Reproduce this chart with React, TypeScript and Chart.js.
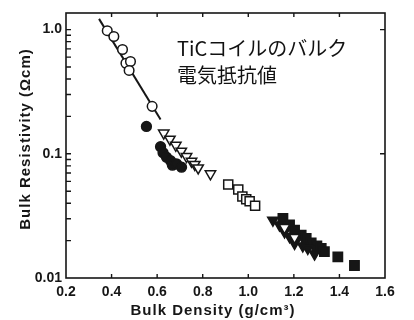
import React, { useEffect, useRef } from 'react';
import { Chart, registerables } from 'chart.js';

Chart.register(...registerables);

// ---- axis data ----
const xTickValues = [0.2, 0.4, 0.6, 0.8, 1.0, 1.2, 1.4, 1.6];
const xRange = [0.2, 1.6];
const yTickValues = [0.01, 0.1, 1.0];
const yTickLabels = ['0.01', '0.1', '1.0'];
const yMinorTicks = [0.02, 0.03, 0.04, 0.05, 0.06, 0.07, 0.08, 0.09, 0.2, 0.3, 0.4, 0.5, 0.6, 0.7, 0.8, 0.9];
const yRightTicks = [0.1, 1.0];
const yRange = [0.01, 1.36];

const xTitle = 'Bulk Density (g/cm³)';
const yTitle = 'Bulk Resistivity (Ωcm)';
const noteLines = ['TiCコイルのバルク', '電気抵抗値'];

// ---- series (bulk density g/cm3, bulk resistivity ohm·cm) ----
const openCircleX = [0.381, 0.41, 0.448, 0.463, 0.483, 0.477, 0.578];
const openCircleY = [0.98, 0.879, 0.691, 0.536, 0.553, 0.469, 0.241];

const filledCircleX = [0.553, 0.615, 0.626, 0.641, 0.659, 0.667, 0.685, 0.707];
const filledCircleY = [0.166, 0.114, 0.102, 0.094, 0.088, 0.081, 0.083, 0.078];

const openTriangleX = [0.629, 0.656, 0.682, 0.706, 0.729, 0.751, 0.765, 0.78, 0.834, 1.159, 1.203];
const openTriangleY = [0.147, 0.131, 0.117, 0.105, 0.095, 0.087, 0.082, 0.077, 0.069, 0.0255, 0.0212];

const openSquareX = [0.912, 0.956, 0.974, 0.991, 1.006, 1.03];
const openSquareY = [0.0566, 0.0516, 0.0453, 0.0431, 0.0415, 0.0382];

const filledTriangleX = [1.108, 1.137, 1.159, 1.181, 1.203, 1.239, 1.261, 1.291];
const filledTriangleY = [0.0292, 0.0267, 0.0235, 0.0215, 0.019, 0.0181, 0.0173, 0.0156];

const filledSquareX = [1.152, 1.181, 1.203, 1.232, 1.254, 1.276, 1.301, 1.32, 1.334, 1.393, 1.466];
const filledSquareY = [0.0302, 0.0267, 0.0243, 0.0221, 0.0208, 0.0192, 0.0181, 0.0173, 0.0163, 0.0148, 0.0126];

const fitLineX = [0.345, 0.615];
const fitLineY = [1.22, 0.189];

const pts = (xs: number[], ys: number[]) => xs.map((x, i) => ({ x, y: ys[i] }));

const INK = '#161616';
const tickFont = { family: '"Liberation Sans", Arial, sans-serif', size: 14, weight: 'bold' as const };

const decorPlugin = {
  id: 'decor',
  afterDraw(chart: any) {
    const { ctx, chartArea: a } = chart;
    const x = chart.scales.x;
    const y = chart.scales.y;
    ctx.save();
    ctx.strokeStyle = INK;
    ctx.lineWidth = 1.6;
    ctx.strokeRect(a.left, a.top, a.right - a.left, a.bottom - a.top);
    ctx.lineWidth = 1.4;
    ctx.beginPath();
    xTickValues.forEach((v) => {
      const px = x.getPixelForValue(v);
      if (px <= a.left + 1 || px >= a.right - 1) return;
      ctx.moveTo(px, a.bottom);
      ctx.lineTo(px, a.bottom - 4);
      ctx.moveTo(px, a.top);
      ctx.lineTo(px, a.top + 4);
    });
    [...yTickValues, ...yMinorTicks].forEach((v) => {
      const py = y.getPixelForValue(v);
      if (py <= a.top + 1 || py >= a.bottom - 1) return;
      ctx.moveTo(a.left, py);
      ctx.lineTo(a.left + 5, py);
    });
    yRightTicks.forEach((v) => {
      const py = y.getPixelForValue(v);
      ctx.moveTo(a.right, py);
      ctx.lineTo(a.right - 5, py);
    });
    ctx.stroke();

    // axis titles
    ctx.fillStyle = INK;
    ctx.font = 'bold 15px "Liberation Sans", Arial, sans-serif';
    try { (ctx as any).letterSpacing = '1px'; } catch (e) { /* ignore */ }
    ctx.textAlign = 'center';
    ctx.textBaseline = 'middle';
    ctx.fillText(xTitle, 213, 311);
    ctx.save();
    ctx.translate(26, 139);
    ctx.rotate(-Math.PI / 2);
    ctx.fillText(yTitle, 0, 0);
    ctx.restore();
    try { (ctx as any).letterSpacing = '0px'; } catch (e) { /* ignore */ }

    // annotation
    ctx.font = '20px "Noto Sans CJK JP", sans-serif';
    ctx.textAlign = 'left';
    ctx.fillStyle = '#111';
    ctx.fillText(noteLines[0], 177, 48);
    ctx.fillText(noteLines[1], 177, 75);
    ctx.restore();
  },
};

export default function App() {
  const ref = useRef<HTMLCanvasElement>(null);
  useEffect(() => {
    const marker = (fill: string, style: string, r: number, rot = 0) => ({
      showLine: false,
      pointStyle: style,
      pointRadius: r,
      pointRotation: rot,
      pointBackgroundColor: fill,
      pointBorderColor: INK,
      pointBorderWidth: 1.5,
    });
    const chart = new Chart(ref.current as HTMLCanvasElement, {
      type: 'scatter',
      data: {
        datasets: [
          { label: 'open circles', data: pts(openCircleX, openCircleY), ...marker('#fff', 'circle', 4.8) } as any,
          { label: 'open triangles', data: pts(openTriangleX, openTriangleY), ...marker('#fff', 'triangle', 6, 180) } as any,
          { label: 'open squares', data: pts(openSquareX, openSquareY), ...marker('#fff', 'rect', 6.4) } as any,
          { label: 'filled circles', data: pts(filledCircleX, filledCircleY), ...marker(INK, 'circle', 4.9) } as any,
          { label: 'filled triangles', data: pts(filledTriangleX, filledTriangleY), ...marker(INK, 'triangle', 6, 180) } as any,
          { label: 'filled squares', data: pts(filledSquareX, filledSquareY), ...marker(INK, 'rect', 6.6) } as any,
          {
            label: 'fit',
            data: pts(fitLineX, fitLineY),
            showLine: true,
            pointRadius: 0,
            borderColor: INK,
            borderWidth: 2,
            fill: false,
          } as any,
        ],
      },
      options: {
        animation: false,
        responsive: false,
        events: [],
        layout: { padding: { top: 13, right: 29, left: 0, bottom: 0 } },
        plugins: { legend: { display: false }, tooltip: { enabled: false } },
        scales: {
          x: {
            type: 'linear',
            min: xRange[0],
            max: xRange[1],
            grid: { display: false, drawTicks: false },
            border: { display: false },
            afterBuildTicks: (s: any) => { s.ticks = xTickValues.map((v) => ({ value: v })); },
            afterFit: (s: any) => { s.height = 42; },
            ticks: {
              autoSkip: false,
              maxRotation: 0,
              padding: 6,
              color: INK,
              font: tickFont,
              callback: (v: any) => Number(v).toFixed(1),
            },
          },
          y: {
            type: 'logarithmic',
            min: yRange[0],
            max: yRange[1],
            grid: { display: false, drawTicks: false },
            border: { display: false },
            afterBuildTicks: (s: any) => { s.ticks = yTickValues.map((v) => ({ value: v })); },
            afterFit: (s: any) => { s.width = 66; },
            ticks: {
              autoSkip: false,
              padding: 4,
              color: INK,
              font: tickFont,
              callback: (v: any) => {
                const i = yTickValues.findIndex((t) => Math.abs(t - Number(v)) < 1e-9);
                return i >= 0 ? yTickLabels[i] : '';
              },
            },
          },
        },
      },
      plugins: [decorPlugin],
    } as any);
    return () => chart.destroy();
  }, []);
  return (
    <div style={{ position: 'fixed', left: 0, top: 0, width: 414, height: 320, background: '#fff' }}>
      <canvas ref={ref} width={414} height={320} style={{ display: 'block', width: 414, height: 320 }} />
    </div>
  );
}
